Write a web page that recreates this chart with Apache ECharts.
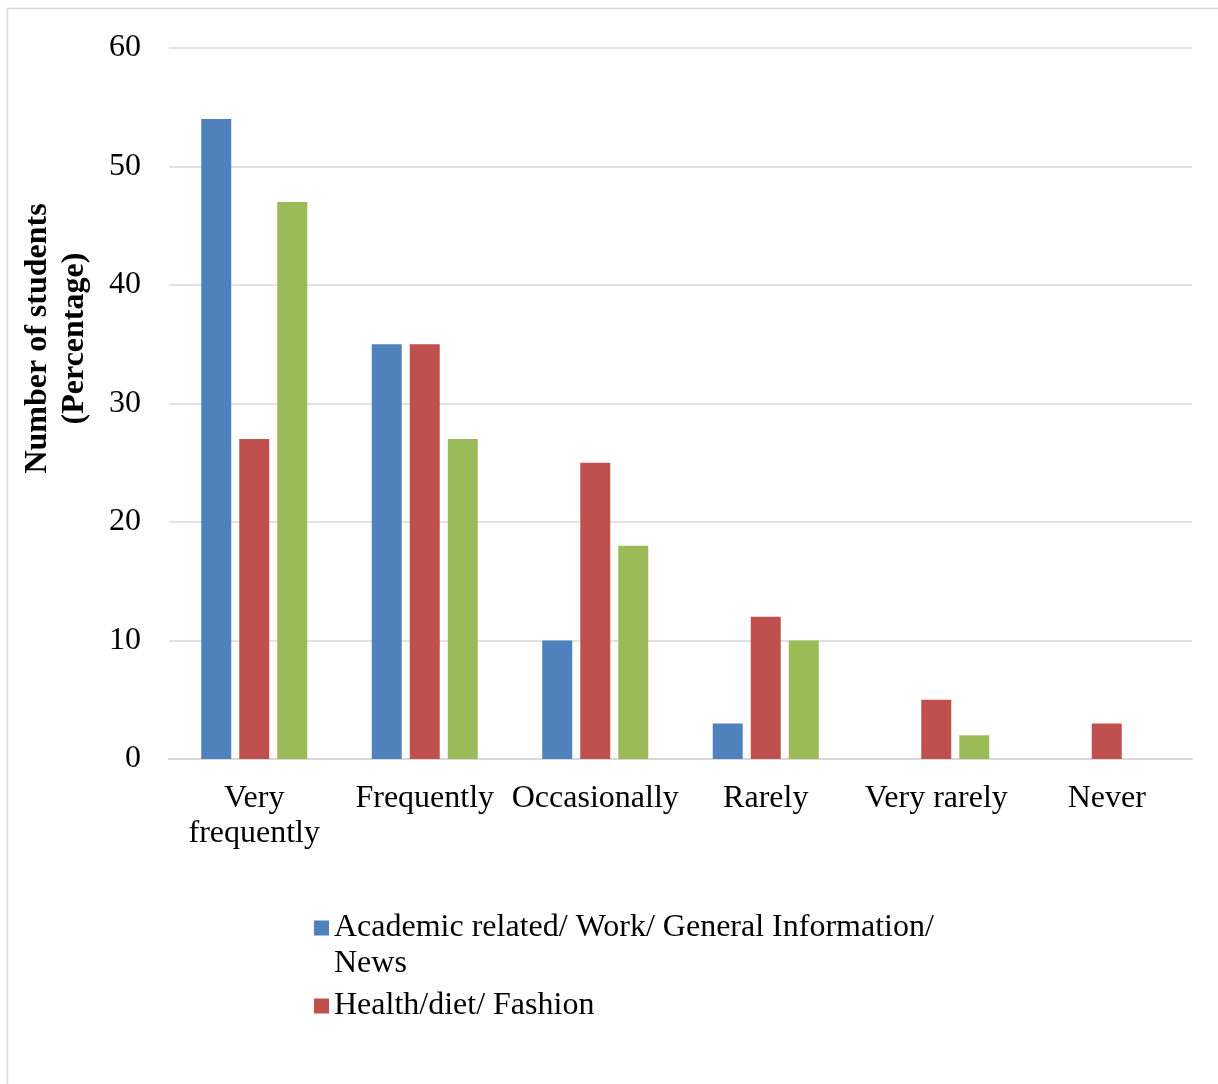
<!DOCTYPE html>
<html>
<head>
<meta charset="utf-8">
<title>Frequency of information searches</title>
<script src="https://cdn.jsdelivr.net/npm/echarts@6/dist/echarts.min.js"></script>
<style>
  html, body { margin: 0; padding: 0; background: #fff; }
  #chart { width: 1218px; height: 1084px; }
</style>
</head>
<body>
<div id="chart"></div>
<script>
// Frequency categories along the x axis
const categories = ['Very frequently', 'Frequently', 'Occasionally', 'Rarely', 'Very rarely', 'Never'];

// Series names
const nameAcademic = 'Academic related/ Work/ General Information/ News';
const nameHealth = 'Health/diet/ Fashion';
const nameOther = 'Other';

// Percentage of students per frequency
const academicValues = [54, 35, 10, 3, 0, 0];
const healthValues = [27, 35, 25, 12, 5, 3];
const otherValues = [47, 27, 18, 10, 2, 0];

// Value axis ticks
const yTicks = [0, 10, 20, 30, 40, 50, 60];

const serif = 'Liberation Serif';
const fs = 32;
const chart = echarts.init(document.getElementById('chart'), null, { renderer: 'canvas' });

const barCommon = { type: 'bar', barWidth: 30, barGap: '26.7%' };

chart.setOption({
  backgroundColor: '#ffffff',
  animation: false,
  graphic: [{
    type: 'rect',
    z: -1,
    shape: { x: 7.5, y: 8.5, width: 1400, height: 1200 },
    style: { fill: 'none', stroke: '#d9d9d9', lineWidth: 1.5 }
  }],
  grid: { left: 169, right: 26, top: 48, bottom: 325, containLabel: false, outerBoundsMode: 'none' },
  legend: [
    {
      // leading blank line keeps the marker level with the first text line
      data: [nameAcademic],
      orient: 'vertical',
      left: 314,
      top: 874,
      padding: 0,
      itemWidth: 15,
      itemHeight: 15,
      icon: 'rect',
      selectedMode: false,
      formatter: () => ' \nAcademic related/ Work/ General Information/\nNews',
      textStyle: { fontFamily: serif, fontSize: fs, color: '#000', lineHeight: 36 }
    },
    {
      data: [nameHealth],
      orient: 'vertical',
      left: 314,
      top: 988,
      padding: 0,
      itemWidth: 15,
      itemHeight: 15,
      icon: 'rect',
      selectedMode: false,
      textStyle: { fontFamily: serif, fontSize: fs, color: '#000', lineHeight: 36 }
    }
  ],
  xAxis: {
    type: 'category',
    data: categories,
    axisLine: { lineStyle: { color: '#d9d9d9', width: 2 } },
    axisTick: { show: false },
    axisLabel: {
      interval: 0,
      margin: 22,
      fontFamily: serif,
      fontSize: fs,
      color: '#000',
      lineHeight: 35,
      formatter: v => v === 'Very frequently' ? 'Very\nfrequently' : v
    }
  },
  yAxis: {
    type: 'value',
    min: yTicks[0],
    max: yTicks[yTicks.length - 1],
    interval: 10,
    name: 'Number of students\n(Percentage)',
    nameLocation: 'middle',
    nameRotate: 90,
    nameGap: 76,
    nameTextStyle: {
      fontFamily: serif, fontSize: fs, fontWeight: 'bold', color: '#000', lineHeight: 37,
      padding: [0, 0, 0, 130]
    },
    axisLine: { show: false },
    axisTick: { show: false },
    axisLabel: { margin: 28, fontFamily: serif, fontSize: fs, color: '#000', padding: [3, 0, 0, 0] },
    splitLine: { lineStyle: { color: '#d9d9d9', width: 1.5 } }
  },
  series: [
    Object.assign({ name: nameAcademic, data: academicValues, itemStyle: { color: '#4f81bd' } }, barCommon),
    Object.assign({ name: nameHealth, data: healthValues, itemStyle: { color: '#c0504d' } }, barCommon),
    Object.assign({ name: nameOther, data: otherValues, itemStyle: { color: '#9bbb59' } }, barCommon)
  ]
});
</script>
</body>
</html>
